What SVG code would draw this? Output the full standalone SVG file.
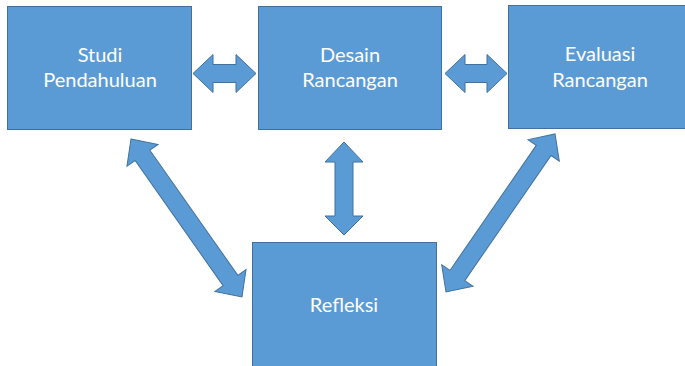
<svg xmlns="http://www.w3.org/2000/svg" width="685" height="366" viewBox="0 0 685 366">
<style>
.box{fill:#5B9BD5;stroke:#41719C;stroke-width:1}
.arr{fill:#5B9BD5;stroke:#41719C;stroke-width:1;stroke-linejoin:miter}
.lbl{font-family:Lato,"Open Sans","Liberation Sans",sans-serif;font-size:20px;fill:#FFFFFF;text-anchor:middle}
</style>
<rect width="685" height="366" fill="#FFFFFF"/>
<g id="studi">
<rect class="box" x="7.5" y="6.5" width="184" height="123"/>
<text class="lbl" x="100" y="62">Studi</text>
<text class="lbl" x="100" y="87">Pendahuluan</text>
</g>
<g id="desain">
<rect class="box" x="258.5" y="6.5" width="183" height="123"/>
<text class="lbl" x="350" y="62">Desain</text>
<text class="lbl" x="350" y="87">Rancangan</text>
</g>
<g id="evaluasi">
<rect class="box" x="508.5" y="5.5" width="185" height="123"/>
<text class="lbl" x="600" y="61">Evaluasi</text>
<text class="lbl" x="600" y="87">Rancangan</text>
</g>
<g id="refleksi">
<rect class="box" x="252.5" y="242.5" width="184" height="130"/>
<text class="lbl" x="344" y="312">Refleksi</text>
</g>
<g id="connectors">
<polygon class="arr" points="193,73.5 213,54.5 213,64.5 236,64.5 236,54.5 256,73.5 236,92.5 236,82.5 213,82.5 213,92.5"/>
<polygon class="arr" points="445,73.5 465,54.5 465,64.5 487,64.5 487,54.5 507,73.5 487,92.5 487,82.5 465,82.5 465,92.5"/>
<polygon class="arr" points="344,142 363,162 353,162 353,216 363,216 344,235 325,216 335,216 335,162 325,162"/>
<polygon class="arr" transform="translate(131,139) rotate(54.9)" points="0,0 20,-19 20,-9 173,-9 173,-19 193,0 173,19 173,9 20,9 20,19"/>
<polygon class="arr" transform="translate(446,292) rotate(-55.4)" points="0,0 20,-19 20,-9 172,-9 172,-19 192,0 172,19 172,9 20,9 20,19"/>
</g>
</svg>
